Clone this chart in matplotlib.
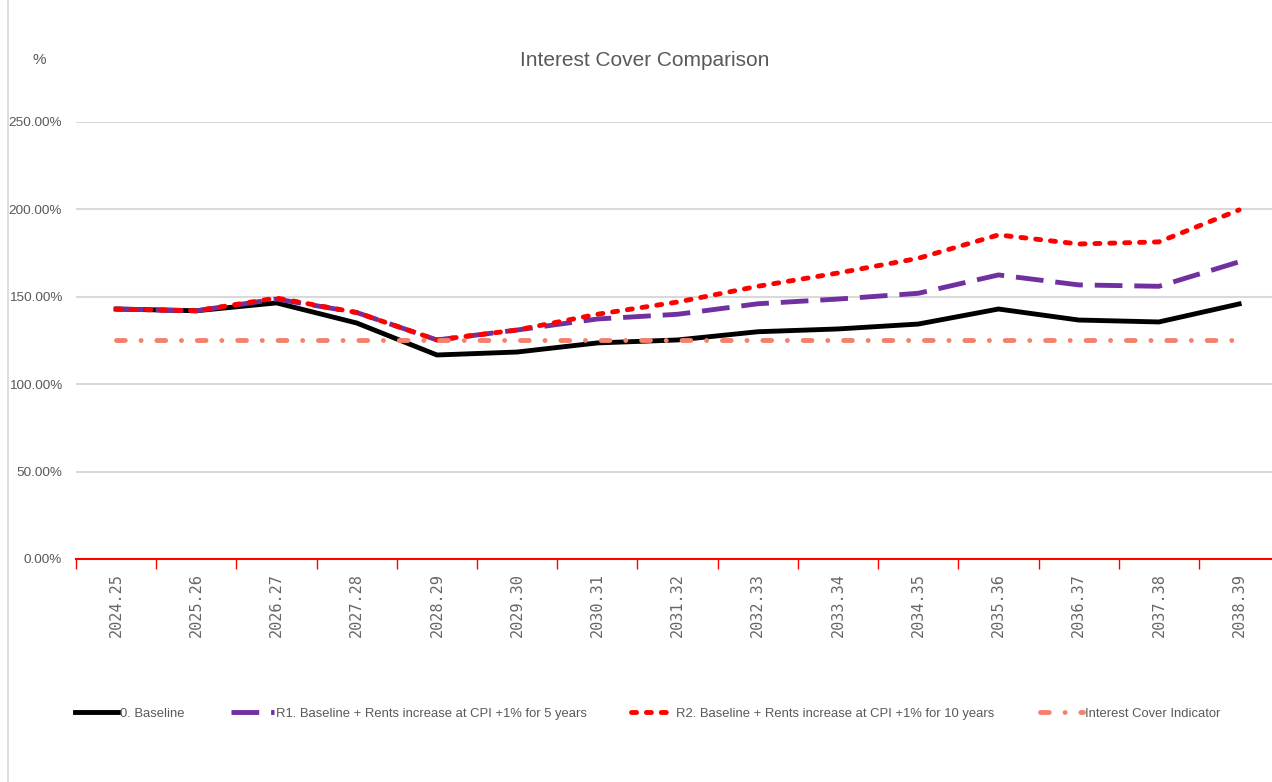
import matplotlib.pyplot as plt
from matplotlib.lines import Line2D

# categories (financial years)
years = ["2024.25", "2025.26", "2026.27", "2027.28", "2028.29", "2029.30", "2030.31",
         "2031.32", "2032.33", "2033.34", "2034.35", "2035.36", "2036.37", "2037.38", "2038.39"]

# interest cover values in %
baseline = [143, 142, 146.5, 135, 116.7, 118.4, 123.6, 125.3, 130, 131.6, 134.4, 143, 136.7, 135.6, 145.9]
r1 = [143, 142, 148.7, 141, 125.3, 131, 137.3, 140, 146, 148.7, 152, 162.5, 156.8, 156, 170]
r2 = [143, 142, 149.3, 141, 125.3, 131, 140, 147, 156, 163.6, 172, 185.4, 180.2, 181.4, 199.7]
indicator = [125] * 15

labels = ["0. Baseline",
          "R1. Baseline + Rents increase at CPI +1% for 5 years",
          "R2. Baseline + Rents increase at CPI +1% for 10 years",
          "Interest Cover Indicator"]

font = "Liberation Sans"
grey = "#595959"

fig = plt.figure(figsize=(12.72, 7.82), dpi=100)
ax = fig.add_axes([0.0597, 0.2852, 0.9403, 0.5588])

x = list(range(len(years)))
lw = 3.5
l0, = ax.plot(x, baseline, color="black", lw=lw, solid_joinstyle="round")
l1, = ax.plot(x, r1, color="#7030a0", lw=lw, dashes=(5.7, 2.45))
l2, = ax.plot(x, r2, color="#ff0000", lw=lw, dashes=(1.04, 2.02), dash_capstyle="round")
l3, = ax.plot(x, indicator, color="#f4806e", lw=lw, dashes=(1.8, 3.25, 0.01, 3.25),
              dash_capstyle="round")

ax.set_xlim(-0.5, 14.41)
ax.set_ylim(0, 250)
ax.set_yticks([0, 50, 100, 150, 200, 250])
ax.set_yticklabels(["0.00%", "50.00%", "100.00%", "150.00%", "200.00%", "250.00%"],
                   family=font, fontsize=9.7, color=grey)
ax.tick_params(axis="y", length=0, pad=10)
ax.yaxis.grid(True, color="#d9d9d9", lw=1.5)
ax.set_axisbelow(True)

# category ticks between the points, labels at the points
ax.set_xticks([i - 0.5 for i in range(len(years))])
ax.set_xticklabels([])
ax.set_xticks(x, minor=True)
ax.set_xticklabels(years, minor=True, rotation=90, family="DejaVu Sans Mono",
                   fontsize=11, color="#666666")
ax.tick_params(axis="x", which="major", length=7, color="#ff0000", width=1)
ax.tick_params(axis="x", which="minor", length=0, pad=10)

for s in ["top", "right", "left"]:
    ax.spines[s].set_visible(False)
ax.spines["bottom"].set_color("#ff0000")
ax.spines["bottom"].set_linewidth(1.5)

fig.text(0.507, 0.923, "Interest Cover Comparison", ha="center", va="center",
         family=font, fontsize=15, color=grey)
fig.text(0.031, 0.923, "%", ha="center", va="center", family=font, fontsize=11, color=grey)

# thin border line on the left of the chart area
fig.add_artist(Line2D([0.0065, 0.0065], [0, 1], color="#d9d9d9", lw=1.2))

# legend entries placed one by one like the original
starts = [0.059, 0.1816, 0.496, 0.8176]
for h, lab, sx in zip([l0, l1, l2, l3], labels, starts):
    leg = fig.legend([h], [lab], loc="center left", bbox_to_anchor=(sx, 0.087),
                     frameon=False, handlelength=3.3, handletextpad=0.15,
                     borderpad=0, borderaxespad=0, prop={"family": font, "size": 9.4})
    for t in leg.get_texts():
        t.set_color(grey)

fig.savefig("out.png", dpi=100)
